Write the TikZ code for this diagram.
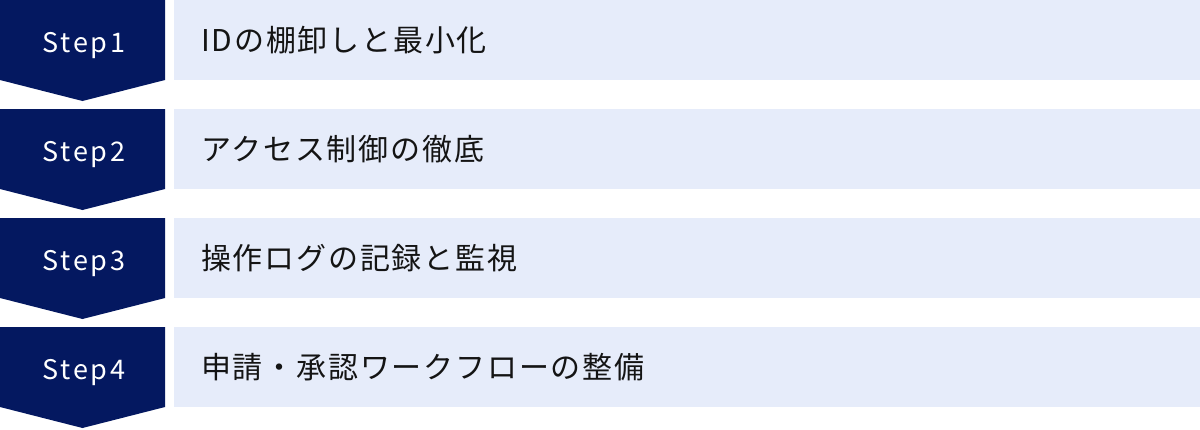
\documentclass[tikz,border=0pt]{standalone}
\usepackage{fontspec}
\setmainfont{Noto Sans CJK JP}
\newfontfamily\jpfont[LetterSpace=6]{Noto Sans CJK JP}
\newfontfamily\stepfont[LetterSpace=10]{Noto Sans CJK JP}
\definecolor{navy}{RGB}{4,24,96}
\definecolor{paleblue}{RGB}{230,236,250}
\definecolor{txt}{RGB}{20,20,20}
\begin{document}
\begin{tikzpicture}[x=1pt,y=-1pt,
  stepbadge/.style={fill=navy,draw=none},
  bar/.style={fill=paleblue,draw=none,anchor=north west,minimum width=1026pt,minimum height=80pt,inner sep=0pt,outer sep=0pt},
  steplabel/.style={text=white,font=\stepfont\fontsize{27}{30}\selectfont,anchor=base,inner sep=0pt},
  itemlabel/.style={text=txt,font=\jpfont\fontsize{30}{34}\selectfont,anchor=base west,inner sep=0pt}]
\useasboundingbox (0,0) rectangle (1200,429);
\foreach \i/\t in {1/{IDの棚卸しと最小化},2/{アクセス制御の徹底},3/{操作ログの記録と監視},4/{申請・承認ワークフローの整備}}{
  \pgfmathsetmacro{\top}{(\i-1)*109}
  \fill[stepbadge] (0,\top) -- (165,\top) -- (165,\top+80) -- (82.5,\top+101) -- (0,\top+80) -- cycle;
  \node[bar] (bar\i) at (174,\top) {};
  \node[steplabel] (step\i) at (84,\top+52) {Step\i};
  \node[itemlabel] (item\i) at (201,\top+51) {\t};
}
\end{tikzpicture}
\end{document}
